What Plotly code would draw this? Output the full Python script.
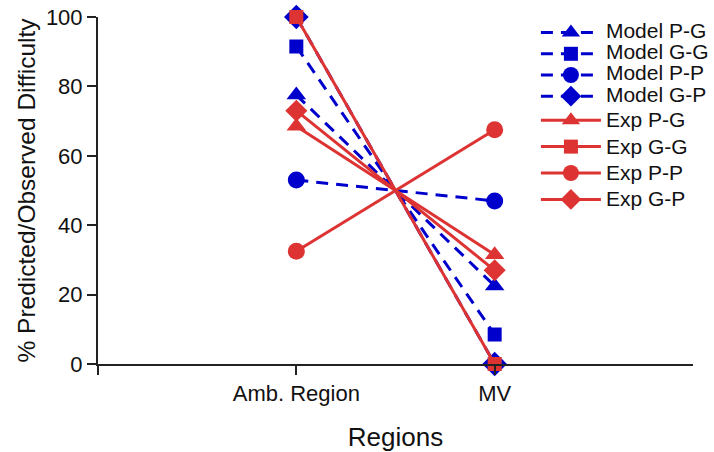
import plotly.graph_objects as go

categories = ["Amb. Region", "MV"]
x_pos = [1, 2]

model_pg = [77.5, 22.5]
model_gg = [91.5, 8.5]
model_pp = [53.0, 47.0]
model_gp = [100.0, 0.0]
exp_pg = [68.5, 31.5]
exp_gg = [100.0, 0.0]
exp_pp = [32.5, 67.5]
exp_gp = [73.0, 27.0]

y_ticks = [0, 20, 40, 60, 80, 100]

BLUE = "#0000cc"
RED = "#dd3333"
FONT = "Liberation Sans, Arial, sans-serif"

fig = go.Figure()

model_series = [
    ("Model P-G", model_pg, "triangle-up", 17),
    ("Model G-G", model_gg, "square", 14),
    ("Model P-P", model_pp, "circle", 17),
    ("Model G-P", model_gp, "diamond", 19),
]
exp_series = [
    ("Exp P-G", exp_pg, "triangle-up", 17),
    ("Exp G-G", exp_gg, "square", 14),
    ("Exp P-P", exp_pp, "circle", 17),
    ("Exp G-P", exp_gp, "diamond", 17),
]

for name, vals, sym, sz in model_series:
    fig.add_trace(go.Scatter(
        x=x_pos, y=vals, mode="lines+markers",
        name='<span style="font-size:21px">%s</span>' % name,
        line=dict(color=BLUE, width=3, dash="12px,8px"),
        marker=dict(symbol=sym, size=sz, color=BLUE),
        cliponaxis=False, legend="legend",
    ))

for name, vals, sym, sz in exp_series:
    fig.add_trace(go.Scatter(
        x=x_pos, y=vals, mode="lines+markers",
        name='<span style="font-size:21px">%s</span>' % name,
        line=dict(color=RED, width=3),
        marker=dict(symbol=sym, size=sz, color=RED),
        cliponaxis=False, legend="legend2",
    ))

fig.update_layout(
    width=714, height=452,
    margin=dict(l=98, r=21, t=17, b=88, autoexpand=False),
    paper_bgcolor="white", plot_bgcolor="white",
    font=dict(family=FONT, color="#111111", size=22),
    legend=dict(
        xref="paper", yref="paper", x=0.736, y=1.0,
        xanchor="left", yanchor="top", itemwidth=60,
        font=dict(size=14), bgcolor="rgba(0,0,0,0)",
        tracegroupgap=0,
    ),
    legend2=dict(
        xref="paper", yref="paper", x=0.736, y=0.755,
        xanchor="left", yanchor="top", itemwidth=60,
        font=dict(size=18), bgcolor="rgba(0,0,0,0)",
        tracegroupgap=0,
    ),
    xaxis=dict(
        range=[0, 3], tickmode="array",
        tickvals=[0] + x_pos, ticktext=[""] + categories,
        showline=True, linecolor="#222222", linewidth=2,
        ticks="outside", ticklen=9, tickwidth=1.5, tickcolor="#222222",
        showgrid=False, zeroline=False,
        tickfont=dict(size=22),
        title=dict(text="Regions", font=dict(size=26), standoff=24),
    ),
    yaxis=dict(
        range=[0, 100], tickmode="array", tickvals=y_ticks,
        showline=True, linecolor="#222222", linewidth=2,
        ticks="outside", ticklen=9, tickwidth=1.5, tickcolor="#222222",
        showgrid=False, zeroline=False,
        tickfont=dict(size=22),
        title=dict(text="% Predicted/Observed Difficulty", font=dict(size=24.5), standoff=3),
    ),
)

fig.write_html("out.html")
